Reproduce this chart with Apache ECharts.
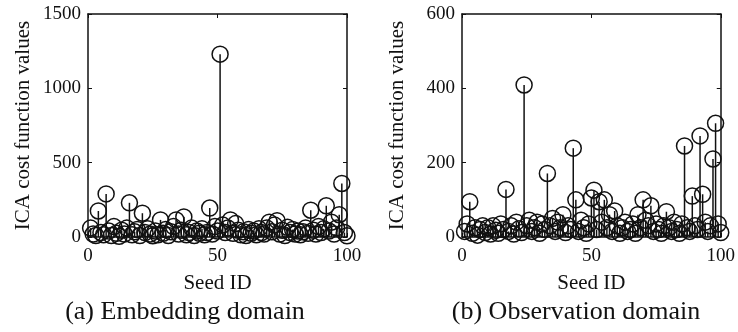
<!DOCTYPE html>
<html><head><meta charset="utf-8">
<script src="https://cdn.jsdelivr.net/npm/echarts@6/dist/echarts.min.js"></script>
<style>html,body{margin:0;padding:0;background:#fff}#c{width:738px;height:332px}</style>
</head><body><div id="c"></div>
<script>
const seedIds = Array.from({length:100},(_,k)=>k+1);
const embeddingValues = [60,20,10,175,30,15,290,40,10,70,25,5,45,20,60,230,15,35,50,10,160,30,55,20,8,40,15,115,25,50,10,35,70,115,20,45,135,15,30,60,10,40,25,55,15,30,195,20,70,40,1230,80,30,60,115,25,90,45,15,35,10,50,25,40,15,55,30,20,60,100,35,80,110,20,45,10,65,30,50,20,40,15,35,60,25,180,45,20,70,30,55,210,40,100,20,60,150,360,30,8];
const observationValues = [15,35,95,10,25,5,20,30,12,25,8,30,18,10,35,20,128,15,30,8,40,22,12,409,30,45,15,25,40,10,35,20,171,30,50,15,40,25,60,12,30,20,239,100,15,45,25,10,35,105,126,20,95,40,100,25,60,15,70,30,10,25,40,15,20,35,10,60,25,100,45,30,84,15,35,20,10,30,68,25,15,40,20,10,35,245,25,15,110,30,20,272,115,40,15,30,210,306,35,12];
const xTicks = [0,50,100];
const leftYTicks = [0,500,1000,1500];
const rightYTicks = [0,200,400,600];
const captions = ['(a) Embedding domain','(b) Observation domain'];

const FONT = 'Liberation Serif';
const chart = echarts.init(document.getElementById('c'));
function pairs(vals){return seedIds.map((id,k)=>[id,vals[k]]);}
const lineStyle = {color:'#111',width:1.5};
function xAxes(gi){
  const base = {gridIndex:gi,type:'value',min:xTicks[0],max:xTicks[xTicks.length-1],interval:xTicks[1]-xTicks[0],
    splitLine:{show:false},axisLine:{show:true,onZero:false,lineStyle:lineStyle},
    axisTick:{show:true,inside:true,length:4,lineStyle:{color:'#111'}}};
  return [Object.assign({},base,{position:'bottom',name:'Seed ID',nameLocation:'middle',nameGap:36,
      nameTextStyle:{fontFamily:FONT,fontSize:21,color:'#111'},
      axisLabel:{fontFamily:FONT,fontSize:19,color:'#111',margin:10,formatter:v=>String(v)}}),
    Object.assign({},base,{position:'top',axisLabel:{show:false}})];
}
function yAxes(gi,ticks){
  const base = {gridIndex:gi,type:'value',min:ticks[0],max:ticks[ticks.length-1],interval:ticks[1]-ticks[0],
    splitLine:{show:false},axisLine:{show:true,onZero:false,lineStyle:lineStyle},
    axisTick:{show:true,inside:true,length:4,lineStyle:{color:'#111'}}};
  return [Object.assign({},base,{position:'left',name:'ICA cost function values',nameLocation:'middle',nameGap:54,
      nameTextStyle:{fontFamily:FONT,fontSize:21,color:'#111'},
      axisLabel:{fontFamily:FONT,fontSize:19,color:'#111',margin:7,formatter:v=>String(v)}}),
    Object.assign({},base,{position:'right',axisLabel:{show:false}})];
}
function stems(gi,vals){
  return [{type:'bar',xAxisIndex:gi*2,yAxisIndex:gi*2,data:pairs(vals),barWidth:1.5,
      itemStyle:{color:'#111'},silent:true},
    {type:'scatter',xAxisIndex:gi*2,yAxisIndex:gi*2,data:pairs(vals),symbol:'circle',symbolSize:16,
      clip:false,itemStyle:{color:'rgba(0,0,0,0)',borderColor:'#111',borderWidth:1.5,opacity:1},silent:true}];
}
chart.setOption({
  animation:false,
  grid:[{left:88,right:391,top:14,bottom:95},{left:462,right:16,top:14,bottom:95}],
  xAxis:[...xAxes(0),...xAxes(1)],
  yAxis:[...yAxes(0,leftYTicks),...yAxes(1,rightYTicks)],
  series:[...stems(0,embeddingValues),...stems(1,observationValues)],
  graphic:[
    {type:'text',x:185,y:312,style:{text:captions[0],font:'26px "Liberation Serif"',fill:'#111',align:'center',verticalAlign:'middle'}},
    {type:'text',x:576,y:312,style:{text:captions[1],font:'26px "Liberation Serif"',fill:'#111',align:'center',verticalAlign:'middle'}}
  ]
});
</script></body></html>
